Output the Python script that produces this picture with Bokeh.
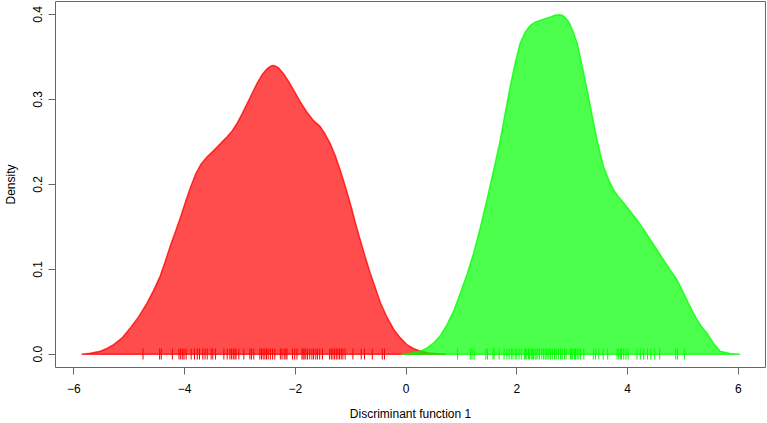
from bokeh.plotting import figure
from bokeh.models import Range1d, FixedTicker
from bokeh.embed import file_html
from bokeh.resources import INLINE

# ---- data ----
red_x = [-5.86, -5.70, -5.52, -5.40, -5.28, -5.13, -4.98, -4.83, -4.68, -4.56, -4.44,
         -4.35, -4.26, -4.16, -4.07, -3.98, -3.89, -3.80, -3.71, -3.60, -3.47, -3.35,
         -3.23, -3.14, -3.05, -2.96, -2.87, -2.78, -2.69, -2.60, -2.51, -2.45, -2.40,
         -2.35, -2.30, -2.21, -2.12, -2.03, -1.91, -1.79, -1.67, -1.55, -1.46, -1.37,
         -1.28, -1.19, -1.10, -1.01, -0.92, -0.83, -0.74, -0.65, -0.55, -0.46, -0.34,
         -0.22, -0.10, 0.02, 0.14, 0.26, 0.41, 0.56, 0.72]
red_y = [0.0, 0.0012, 0.0035, 0.0068, 0.0114, 0.019, 0.031, 0.044, 0.060, 0.075, 0.092,
         0.109, 0.127, 0.145, 0.162, 0.180, 0.197, 0.212, 0.223, 0.232, 0.240, 0.248,
         0.256, 0.263, 0.272, 0.283, 0.295, 0.307, 0.319, 0.329, 0.336, 0.339, 0.340,
         0.339, 0.337, 0.330, 0.321, 0.311, 0.297, 0.285, 0.275, 0.268, 0.259, 0.248,
         0.234, 0.217, 0.198, 0.178, 0.156, 0.135, 0.115, 0.096, 0.077, 0.060, 0.043,
         0.029, 0.019, 0.011, 0.0065, 0.0035, 0.0016, 0.0006, 0.0]

green_x = [-0.09, 0.08, 0.26, 0.38, 0.50, 0.62, 0.74, 0.86, 0.98, 1.10, 1.22, 1.34,
           1.46, 1.58, 1.70, 1.79, 1.88, 1.97, 2.06, 2.15, 2.24, 2.33, 2.42, 2.51,
           2.61, 2.68, 2.76, 2.82, 2.88, 2.94, 3.01, 3.09, 3.17, 3.27, 3.36, 3.45,
           3.51, 3.57, 3.66, 3.75, 3.84, 3.93, 4.05, 4.17, 4.29, 4.41, 4.53, 4.65,
           4.77, 4.89, 4.98, 5.07, 5.16, 5.25, 5.34, 5.43, 5.55, 5.67, 5.85, 6.03]
green_y = [0.0, 0.0013, 0.0035, 0.0075, 0.0133, 0.022, 0.0348, 0.051, 0.072, 0.094,
           0.119, 0.149, 0.182, 0.216, 0.252, 0.284, 0.315, 0.343, 0.366, 0.379,
           0.387, 0.391, 0.393, 0.395, 0.397, 0.399, 0.3996, 0.399, 0.396, 0.391,
           0.381, 0.366, 0.342, 0.311, 0.281, 0.252, 0.235, 0.220, 0.205, 0.193,
           0.185, 0.178, 0.168, 0.158, 0.147, 0.135, 0.123, 0.111, 0.099, 0.088,
           0.076, 0.064, 0.052, 0.041, 0.032, 0.025, 0.013, 0.0035, 0.0008, 0.0]

red_rug = [-4.75, -4.45, -4.42, -4.22, -4.10, -4.07, -4.04, -4.01, -3.97, -3.88, -3.82,
           -3.77, -3.73, -3.67, -3.63, -3.59, -3.52, -3.49, -3.44, -3.29, -3.23, -3.18,
           -3.15, -3.12, -3.09, -3.07, -3.02, -2.93, -2.82, -2.79, -2.75, -2.64, -2.61,
           -2.58, -2.55, -2.52, -2.49, -2.45, -2.41, -2.37, -2.27, -2.24, -2.20, -2.17,
           -2.15, -2.05, -2.01, -1.97, -1.88, -1.86, -1.84, -1.81, -1.78, -1.74, -1.70,
           -1.67, -1.63, -1.60, -1.56, -1.51, -1.38, -1.35, -1.32, -1.29, -1.26, -1.23,
           -1.20, -1.17, -1.14, -1.10, -0.96, -0.81, -0.75, -0.61, -0.43, -0.39]

green_rug = [0.93, 1.16, 1.19, 1.23, 1.44, 1.47, 1.57, 1.59, 1.68, 1.77, 1.82, 1.86,
             1.90, 1.93, 1.97, 2.00, 2.04, 2.08, 2.14, 2.16, 2.18, 2.21, 2.23, 2.26,
             2.28, 2.30, 2.33, 2.35, 2.38, 2.41, 2.45, 2.48, 2.51, 2.53, 2.56, 2.58,
             2.61, 2.64, 2.68, 2.71, 2.75, 2.79, 2.82, 2.86, 2.89, 2.97, 2.99, 3.01,
             3.04, 3.06, 3.09, 3.12, 3.15, 3.21, 3.38, 3.42, 3.48, 3.56, 3.64, 3.81,
             3.84, 3.87, 3.89, 3.93, 3.97, 4.01, 4.17, 4.23, 4.29, 4.36, 4.42, 4.49,
             4.58, 4.87, 4.90, 5.03]

x_ticks = [-6, -4, -2, 0, 2, 4, 6]
y_ticks = [0.0, 0.1, 0.2, 0.3, 0.4]
y_tick_labels = ["0.0", "0.1", "0.2", "0.3", "0.4"]
x_title = "Discriminant function 1"
y_title = "Density"

# ---- figure ----
p = figure(width=767, height=423, output_backend="svg", toolbar_location=None,
           x_range=Range1d(-6.33, 6.49), y_range=Range1d(-0.0156, 0.4153),
           min_border_left=55, min_border_right=2, min_border_top=1,
           min_border_bottom=55,
           background_fill_color="white", border_fill_color="white")
p.grid.visible = False
p.outline_line_color = "#666666"
p.outline_line_width = 1

FONT = "Liberation Sans"
for ax in (p.xaxis[0], p.yaxis[0]):
    ax.axis_line_color = None
    ax.major_tick_line_color = "#666666"
    ax.major_tick_out = 7
    ax.major_tick_in = 0
    ax.minor_tick_line_color = None
    ax.major_label_text_font = FONT
    ax.major_label_text_font_size = "12px"
    ax.major_label_text_color = "black"
    ax.axis_label_text_font = FONT
    ax.axis_label_text_font_size = "12px"
    ax.axis_label_text_font_style = "normal"
    ax.axis_label_text_color = "black"

p.xaxis.ticker = FixedTicker(ticks=x_ticks)
p.xaxis.axis_label = x_title
p.xaxis.major_label_standoff = 9
p.xaxis.axis_label_standoff = 11

p.yaxis.ticker = FixedTicker(ticks=y_ticks)
p.yaxis.major_label_overrides = {t: l for t, l in zip(y_ticks, y_tick_labels)}
p.yaxis.major_label_orientation = "vertical"
p.yaxis.axis_label = y_title
p.yaxis.major_label_standoff = 6
p.yaxis.axis_label_standoff = 13

# densities
p.patch(red_x, red_y, fill_color="#FF0000", fill_alpha=0.7,
        line_color="#FF0000", line_alpha=0.75, line_width=1.5)
p.patch(green_x, green_y, fill_color="#00FF00", fill_alpha=0.7,
        line_color="#00FF00", line_alpha=0.75, line_width=1.5)

# rugs
p.segment(x0=red_rug, x1=red_rug, y0=[-0.0062] * len(red_rug), y1=[0.0067] * len(red_rug),
          line_color="#FF0000", line_width=1)
p.segment(x0=green_rug, x1=green_rug, y0=[-0.0062] * len(green_rug),
          y1=[0.0067] * len(green_rug), line_color="#00FF00", line_width=1)

open("out.html", "w").write(file_html(p, INLINE))
